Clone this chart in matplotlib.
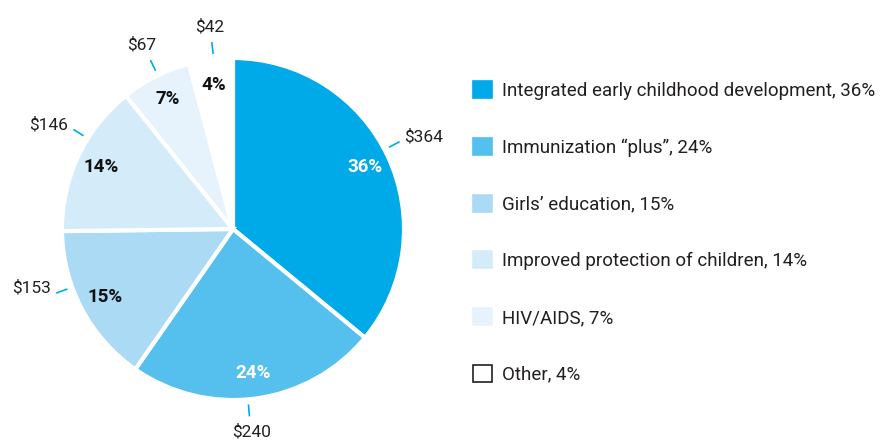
import numpy as np
import matplotlib
matplotlib.use("Agg")
import matplotlib.pyplot as plt
from matplotlib.patches import Patch

plt.rcParams['font.family'] = ['Roboto', 'DejaVu Sans']

# data
categories = ["Integrated early childhood development", "Immunization \u201cplus\u201d",
              "Girls\u2019 education", "Improved protection of children", "HIV/AIDS", "Other"]
amounts = [364, 240, 153, 146, 67, 42]
percents = [36, 24, 15, 14, 7, 4]
colors = ["#00a9e8", "#55bfee", "#abdaf5", "#d4ebf9", "#e6f3fc", "#ffffff"]
pct_colors = ["white", "white", "#111111", "#111111", "#111111", "#111111"]
# small angle nudges for the leader ticks (degrees), as in the original layout
tick_nudge = [2.4, -2.8, -8.0, -6.7, -0.8, -1.0]

W, H = 886, 441
fig = plt.figure(figsize=(W / 100, H / 100), dpi=100)
ax = fig.add_axes([0, 0, 466 / W, 1])

cx, cy, r = 233, H - 229, 171
wedges, _ = ax.pie(amounts, colors=colors, startangle=90, counterclock=False,
                   center=(cx, cy), radius=r,
                   wedgeprops=dict(edgecolor="white", linewidth=3))
ax.set_xlim(0, 466)
ax.set_ylim(0, H)
ax.set_aspect("equal")
ax.axis("off")

total = sum(amounts)
cum = 0
for amt, pct, pc, nd in zip(amounts, percents, pct_colors, tick_nudge):
    mid = np.deg2rad(90 - (cum + amt / 2) / total * 360)
    cum += amt
    c, s = np.cos(mid), np.sin(mid)
    ax.text(cx + 0.85 * r * c, cy + 0.85 * r * s, f"{pct}%", ha="center", va="center",
            fontsize=13.5, fontweight="bold", color=pc)
    a = mid + np.deg2rad(nd)
    c, s = np.cos(a), np.sin(a)
    ax.plot([cx + 1.03 * r * c, cx + 1.10 * r * c], [cy + 1.03 * r * s, cy + 1.10 * r * s],
            color="#00a9e8", lw=1.2, solid_capstyle="butt")
    ex, ey = cx + 1.10 * r * c, cy + 1.10 * r * s
    if abs(c) > 0.5:
        ha = "left" if c > 0 else "right"
        ax.text(ex + 5 * np.sign(c), ey + 5, f"${amt}", ha=ha, va="center",
                fontsize=12.5, color="#231f20")
    else:
        va = "bottom" if s > 0 else "top"
        ax.text(ex + 20 * c, ey + 8 * np.sign(s), f"${amt}", ha="center", va=va,
                fontsize=12.5, color="#231f20")

handles = [Patch(facecolor=col, edgecolor=(col if col != "#ffffff" else "#231f20"),
                 linewidth=1.2) for col in colors]
labels = [f"{cat}, {p}%" for cat, p in zip(categories, percents)]
fig.legend(handles, labels, loc="upper left", bbox_to_anchor=(464 / W, 1 - 72 / H),
           frameon=False, fontsize=13.5, handlelength=1.0, handleheight=1.0,
           handletextpad=0.5, labelspacing=2.02, borderpad=0, labelcolor="#231f20")

fig.savefig("out.png", dpi=100)
